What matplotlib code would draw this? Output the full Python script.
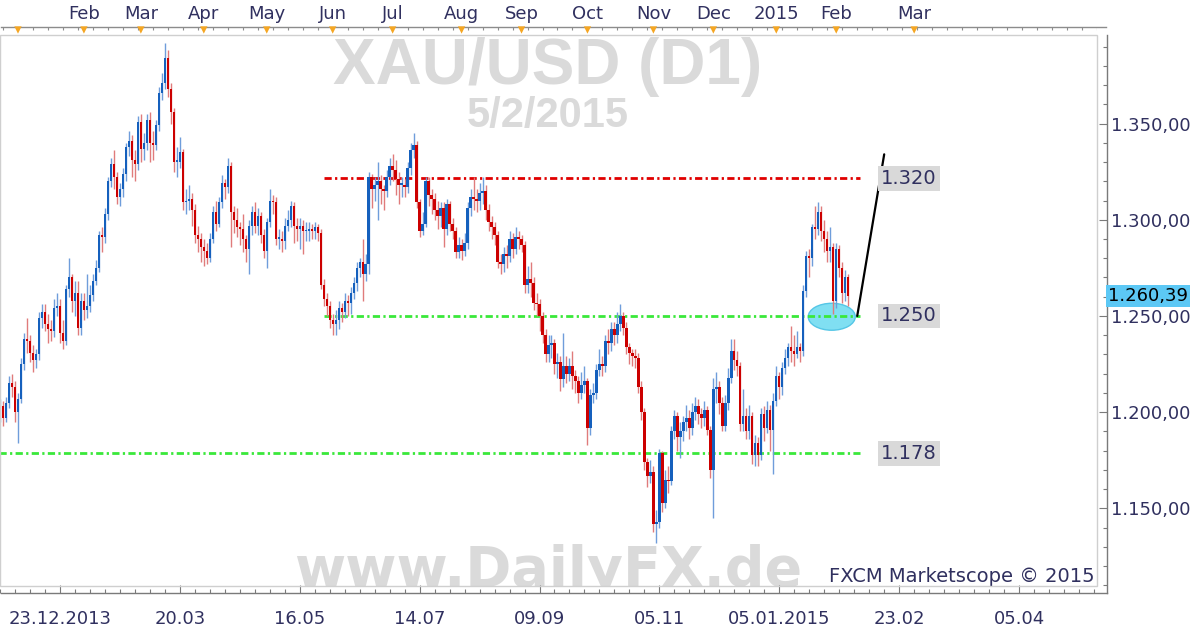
import numpy as np
import matplotlib
matplotlib.use("Agg")
import matplotlib.pyplot as plt
from matplotlib.patches import Ellipse, Rectangle
from matplotlib.transforms import blended_transform_factory

# Velas diarias XAU/USD (D1), desde 23.12.2013 hasta 05.02.2015
cierres = [
    1198, 1203, 1197, 1205, 1215, 1213, 1200, 1207, 1225, 1238,
    1237, 1231, 1227, 1230, 1249, 1252, 1246, 1243, 1242, 1254,
    1255, 1241, 1237, 1264, 1270, 1258, 1262, 1244, 1258, 1253,
    1255, 1261, 1268, 1275, 1292, 1291, 1303, 1320, 1329, 1322,
    1312, 1316, 1324, 1338, 1341, 1331, 1329, 1351, 1337, 1340,
    1352, 1340, 1339, 1349, 1366, 1371, 1384, 1368, 1356, 1330,
    1330, 1335, 1309, 1310, 1311, 1305, 1292, 1290, 1286, 1284,
    1280, 1290, 1304, 1298, 1309, 1319, 1317, 1328, 1304, 1300,
    1296, 1295, 1290, 1285, 1297, 1304, 1297, 1302, 1292, 1284,
    1299, 1310, 1309, 1290, 1290, 1289, 1297, 1300, 1307, 1297,
    1295, 1297, 1294, 1294, 1295, 1294, 1296, 1293, 1266, 1259,
    1255, 1248, 1246, 1248, 1254, 1252, 1258, 1257, 1262, 1267,
    1275, 1278, 1272, 1277, 1322, 1316, 1318, 1320, 1316, 1315,
    1322, 1328, 1326, 1321, 1318, 1318, 1317, 1327, 1336, 1339,
    1309, 1294, 1298, 1320, 1313, 1311, 1305, 1302, 1306, 1295,
    1308, 1298, 1294, 1283, 1287, 1284, 1288, 1306, 1312, 1311,
    1310, 1314, 1315, 1305, 1299, 1296, 1292, 1278, 1277, 1282,
    1281, 1290, 1285, 1291, 1290, 1287, 1266, 1269, 1267, 1257,
    1256, 1250, 1240, 1230, 1235, 1236, 1225, 1226, 1217, 1224,
    1220, 1224, 1219, 1216, 1210, 1214, 1216, 1192, 1209, 1210,
    1222, 1225, 1224, 1237, 1236, 1243, 1240, 1246, 1250, 1244,
    1234, 1231, 1229, 1228, 1213, 1200, 1174, 1167, 1169, 1142,
    1143, 1179, 1153, 1165, 1164, 1190, 1198, 1187, 1190, 1195,
    1197, 1192, 1200, 1203, 1199, 1197, 1201, 1191, 1170, 1212,
    1213, 1205, 1193, 1205, 1218, 1232, 1227, 1224, 1194, 1198,
    1190, 1198, 1178, 1184, 1178, 1199, 1192, 1201, 1191, 1206,
    1219, 1213, 1223, 1228, 1234, 1232, 1230, 1234, 1232, 1263,
    1281, 1280, 1296, 1295, 1304, 1294, 1290, 1284, 1286, 1258,
    1285, 1275, 1262, 1270, 1260.39,
]

maximos = [
    1202, 1207, 1206, 1208, 1219, 1220, 1216, 1210, 1228, 1241,
    1249, 1240, 1235, 1233, 1252, 1256, 1256, 1251, 1248, 1259,
    1262, 1259, 1248, 1266, 1280, 1272, 1268, 1268, 1262, 1262,
    1272, 1266, 1272, 1279, 1294, 1296, 1306, 1322, 1332, 1336,
    1325, 1319, 1327, 1340, 1346, 1344, 1336, 1354, 1355, 1345,
    1355, 1356, 1346, 1352, 1369, 1376, 1392, 1388, 1371, 1358,
    1338, 1343, 1337, 1316, 1318, 1314, 1308, 1297, 1293, 1290,
    1288, 1293, 1307, 1310, 1312, 1323, 1321, 1332, 1330, 1307,
    1306, 1299, 1303, 1292, 1300, 1307, 1309, 1306, 1304, 1295,
    1301, 1316, 1313, 1312, 1295, 1294, 1301, 1305, 1310, 1309,
    1301, 1301, 1300, 1299, 1299, 1298, 1299, 1298, 1295, 1269,
    1262, 1258, 1251, 1253, 1258, 1257, 1262, 1261, 1265, 1270,
    1278, 1280, 1290, 1282, 1325, 1324, 1322, 1330, 1323, 1318,
    1326, 1332, 1334, 1331, 1325, 1322, 1321, 1330, 1340, 1345,
    1341, 1311, 1304, 1322, 1322, 1316, 1314, 1310, 1309, 1309,
    1311, 1310, 1301, 1296, 1291, 1290, 1293, 1309, 1316, 1322,
    1316, 1319, 1322, 1318, 1308, 1302, 1299, 1294, 1282, 1286,
    1287, 1294, 1293, 1296, 1294, 1292, 1289, 1276, 1278, 1270,
    1262, 1259, 1252, 1243, 1240, 1240, 1238, 1231, 1229, 1241,
    1229, 1228, 1232, 1222, 1219, 1221, 1224, 1218, 1212, 1215,
    1225, 1233, 1229, 1240, 1243, 1247, 1247, 1252, 1256, 1252,
    1247, 1236, 1233, 1233, 1231, 1216, 1202, 1176, 1175, 1172,
    1149, 1181, 1180, 1170, 1172, 1193, 1201, 1200, 1195, 1198,
    1204, 1201, 1205, 1208, 1207, 1202, 1206, 1203, 1193, 1218,
    1221, 1216, 1208, 1209, 1223, 1238, 1238, 1232, 1226, 1212,
    1202, 1204, 1200, 1188, 1187, 1202, 1203, 1206, 1204, 1210,
    1224, 1221, 1226, 1233, 1236, 1245, 1240, 1242, 1236, 1266,
    1284, 1285, 1298, 1307, 1309, 1307, 1300, 1294, 1296, 1288,
    1288, 1287, 1278, 1274, 1272,
]

minimos = [
    1190, 1195, 1193, 1195, 1202, 1208, 1195, 1184, 1205, 1222,
    1231, 1226, 1221, 1223, 1227, 1244, 1242, 1236, 1237, 1239,
    1250, 1236, 1233, 1235, 1260, 1252, 1250, 1240, 1240, 1248,
    1249, 1252, 1258, 1266, 1273, 1283, 1288, 1300, 1317, 1316,
    1308, 1307, 1312, 1320, 1333, 1322, 1320, 1326, 1330, 1331,
    1336, 1330, 1331, 1336, 1346, 1362, 1368, 1364, 1350, 1325,
    1322, 1327, 1305, 1303, 1305, 1297, 1288, 1283, 1278, 1276,
    1277, 1278, 1288, 1294, 1296, 1306, 1311, 1314, 1286, 1293,
    1291, 1287, 1283, 1278, 1272, 1292, 1293, 1292, 1288, 1280,
    1275, 1296, 1303, 1287, 1285, 1283, 1285, 1294, 1296, 1288,
    1289, 1285, 1282, 1289, 1289, 1290, 1290, 1289, 1264, 1255,
    1250, 1244, 1240, 1240, 1243, 1247, 1249, 1250, 1251, 1259,
    1263, 1270, 1258, 1268, 1272, 1306, 1310, 1300, 1308, 1305,
    1312, 1318, 1320, 1313, 1308, 1312, 1312, 1314, 1323, 1332,
    1306, 1291, 1292, 1296, 1307, 1303, 1300, 1295, 1296, 1286,
    1292, 1294, 1290, 1280, 1280, 1279, 1281, 1285, 1302, 1305,
    1304, 1305, 1308, 1300, 1294, 1290, 1287, 1275, 1272, 1273,
    1275, 1278, 1280, 1282, 1285, 1283, 1262, 1262, 1260, 1253,
    1250, 1242, 1236, 1226, 1226, 1228, 1220, 1218, 1211, 1213,
    1215, 1216, 1212, 1210, 1205, 1207, 1210, 1183, 1188, 1205,
    1207, 1219, 1219, 1221, 1230, 1232, 1235, 1236, 1242, 1240,
    1230, 1225, 1224, 1223, 1210, 1196, 1170, 1161, 1163, 1138,
    1132, 1140, 1148, 1150, 1158, 1162, 1186, 1180, 1176, 1185,
    1190, 1186, 1188, 1196, 1194, 1192, 1193, 1188, 1166, 1145,
    1205, 1199, 1190, 1190, 1201, 1215, 1222, 1219, 1190, 1190,
    1186, 1186, 1173, 1172, 1172, 1175, 1185, 1189, 1180, 1168,
    1203, 1207, 1209, 1220, 1224, 1226, 1224, 1228, 1226, 1229,
    1260, 1270, 1276, 1290, 1292, 1289, 1283, 1278, 1278, 1251,
    1254, 1270, 1257, 1258, 1255,
]

apertura_inicial = 1194
precio_actual = 1260.39

# Eje superior (meses) y eje inferior (fechas), en numero de vela
meses = ["", "Feb", "Mar", "Apr", "May", "Jun", "Jul", "Aug", "Sep",
         "Oct", "Nov", "Dec", "2015", "Feb", "Mar"]
velas_meses = [7, 29, 48, 69, 90, 112, 132, 155, 175, 197, 219, 239, 260, 280, 306]

fechas = ["23.12.2013", "20.03", "16.05", "14.07", "09.09", "05.11",
          "05.01.2015", "23.02", "05.04"]
velas_fechas = [21, 61, 101, 141, 181, 221, 261, 301, 341]

# Niveles dibujados a mano
niveles = [1321.5, 1250, 1178.7]
textos_niveles = ["1.320", "1.250", "1.178"]
colores_niveles = ["#e00000", "#3ae83a", "#3ae83a"]
inicio_niveles = [109, 109, 0]
fin_niveles = 288

proyeccion_x = [287, 296]
proyeccion_y = [1250, 1334]
zona_centro = (278.5, 1249.6)


def formato_de(v):
    # 1350 -> "1.350,00"
    return f"{v:,.2f}".replace(",", " ").replace(".", ",").replace(" ", ".")


azul_texto = "#30305f"
W, H = 1200, 633

fig = plt.figure(figsize=(W / 100, H / 100), dpi=100)
fig.patch.set_facecolor("white")
ax = fig.add_axes([0, (H - 586) / H, 1097 / W, (586 - 35) / H])
ax.set_xlim(1.3, 367)
ax.set_ylim(1109.7, 1396)

# Velas
n = len(cierres)
x = np.arange(n)
c = np.array(cierres, dtype=float)
o = np.array([apertura_inicial] + cierres[:-1], dtype=float)
hi = np.maximum(np.array(maximos, dtype=float), np.maximum(o, c))
lo = np.minimum(np.array(minimos, dtype=float), np.minimum(o, c))
sube = c >= o
base = np.minimum(o, c)
alto = np.maximum(np.abs(c - o), 0.9)

for m, cuerpo, mecha in [(sube, "#1560bd", "#6f9ddb"), (~sube, "#cc0000", "#e07b7b")]:
    ax.vlines(x[m], lo[m], hi[m], color=mecha, lw=1.0, zorder=3)
    ax.bar(x[m], alto[m], bottom=base[m], width=0.78, color=cuerpo, lw=0, zorder=4)

# Zona de soporte y proyeccion
ax.add_patch(Ellipse(zona_centro, 15.7, 14, fc="#80dff2", ec="#55c6e6", lw=1, zorder=1.5))
ax.plot(proyeccion_x, proyeccion_y, color="black", lw=1.6, zorder=5, solid_capstyle="round")

for nivel, texto, col, x0 in zip(niveles, textos_niveles, colores_niveles, inicio_niveles):
    ax.plot([x0, fin_niveles], [nivel, nivel], color=col, lw=2,
            dashes=(2.6, 1.2, 0.8, 1.2), zorder=2)
    ax.text(295, nivel, texto, ha="left", va="center", fontsize=14, color=azul_texto,
            bbox=dict(boxstyle="square,pad=0.15", fc="#d9d9d9", ec="none"), zorder=6)

# Marcas de agua
ax.text(548 / 1097, (586 - 84) / 551, "XAU/USD (D1)", transform=ax.transAxes,
        ha="center", va="baseline", fontsize=46, fontweight="bold",
        family="Liberation Sans", color="#dadada", zorder=0)
ax.text(548 / 1097, (586 - 127) / 551, "5/2/2015", transform=ax.transAxes,
        ha="center", va="baseline", fontsize=30, fontweight="bold",
        family="Liberation Sans", color="#dadada", zorder=0)
ax.text(548 / 1097, 0.0, "www.DailyFX.de", transform=ax.transAxes,
        ha="center", va="baseline", fontsize=40, fontweight="bold",
        family="DejaVu Sans", color="#dadada", zorder=0, clip_on=True)
ax.text(0.998, 4 / 551, "FXCM Marketscope \u00a9 2015", transform=ax.transAxes,
        ha="right", va="baseline", fontsize=14, color=azul_texto, zorder=6)

# Marco y ejes
for s in ["left", "top"]:
    ax.spines[s].set_visible(False)
ax.add_patch(Rectangle((0, 0), 1, 1, transform=ax.transAxes, fill=False,
                       ec="#cfcfcf", lw=1, clip_on=False, zorder=7))
ax.spines["right"].set_position(("outward", 7))
ax.spines["bottom"].set_position(("outward", 5))
ax.spines["right"].set_bounds(1106.1, 1396)
ax.spines["bottom"].set_bounds(1.3, 370.4)
for s in ["right", "bottom"]:
    ax.spines[s].set_color("#7a7a7a")
    ax.spines[s].set_linewidth(1)

ax.yaxis.tick_right()
ax.set_yticks(np.arange(1150, 1351, 50))
ax.set_yticklabels([formato_de(v) for v in np.arange(1150, 1351, 50)])
ax.set_yticks(np.arange(1110, 1400, 10), minor=True)
ax.set_xticks(velas_fechas)
ax.set_xticklabels(fechas)
ax.set_xticks(np.arange(1, 368, 5), minor=True)
ax.tick_params(axis="both", which="major", direction="in", length=6, width=0.8,
               color="#7a7a7a", labelsize=13, labelcolor=azul_texto)
ax.tick_params(axis="both", which="minor", direction="in", length=3, width=0.8,
               color="#7a7a7a")
ax.tick_params(axis="y", pad=3)
ax.tick_params(axis="x", pad=12)

# Etiqueta del precio actual
trans = blended_transform_factory(ax.transAxes, ax.transData)
ax.text(1108 / 1097, precio_actual, formato_de(precio_actual), transform=trans,
        ha="left", va="center", fontsize=13, color="black", clip_on=False,
        bbox=dict(boxstyle="square,pad=0.12", fc="#5cc8f5", ec="none"), zorder=8)

# Regla superior con los meses
regla = fig.add_axes([0, (H - 35) / H, 1097 / W, 14 / H])
regla.set_xlim(ax.get_xlim())
regla.set_ylim(0, 14)
regla.axis("off")
regla.plot([1.3, 370], [7.7, 7.7], color="#8c8c8c", lw=1, clip_on=False)
regla.vlines(np.arange(2, 368, 5), 4.8, 7.7, color="#8c8c8c", lw=0.8)
regla.scatter(velas_meses, [5.0] * len(velas_meses), marker="v", s=28,
              color="#f5a623", edgecolors="none", zorder=3, clip_on=False)
for v, mes in zip(velas_meses, meses):
    regla.text(v, 21, mes, ha="center", va="center", fontsize=13,
               color=azul_texto, clip_on=False)

fig.savefig("out.png", dpi=100, facecolor="white")
